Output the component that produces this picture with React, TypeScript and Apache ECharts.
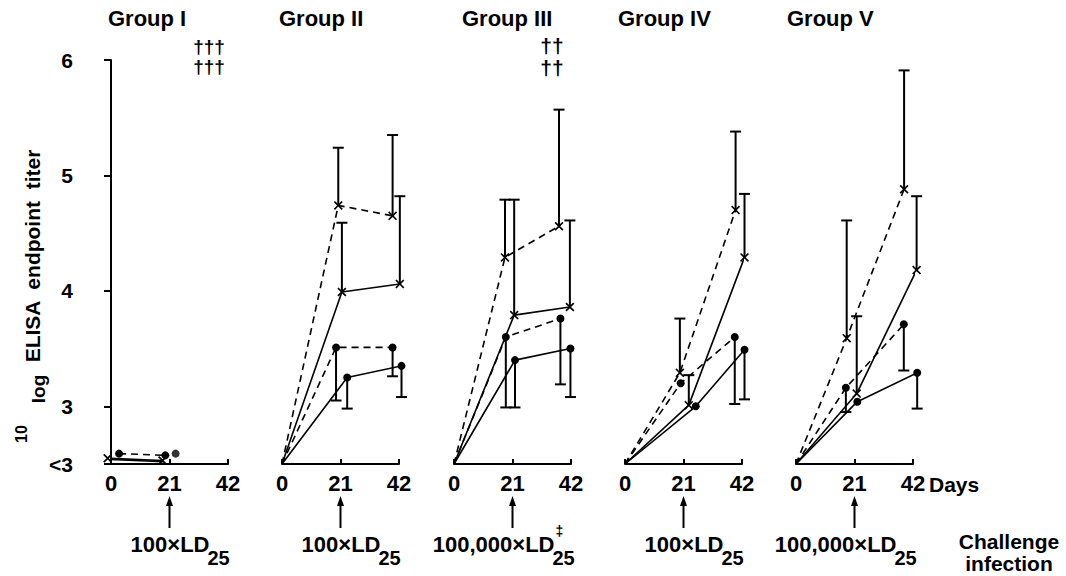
import React, { useEffect, useRef } from "react";
import * as echarts from "echarts";

// ---------- data ----------
const groupTitles = ["Group I", "Group II", "Group III", "Group IV", "Group V"];
const dayTicks = [0, 21, 42];
const yTickValues = [2.5, 3, 4, 5, 6];
const yTickLabels = ["<3", "3", "4", "5", "6"];
const challengeDoses = ["100×LD", "100×LD", "100,000×LD", "100×LD", "100,000×LD"];
const doseSub = "25";
const deathMarks = ["†††", "", "††", "", ""];

// Group I (all values below detection limit, <3 plotted as 2.5)
const g1SolidX = [[-1.2, 2.55], [18.5, 2.53]];
const g1SolidB = [[-1.2, 2.54], [19.0, 2.52]];
const g1DashDot = [[2.9, 2.59], [19.5, 2.575]];
const g1ExtraDot = [[23.2, 2.59]];

// Group II
const g2DashX = [[0, 2.5], [20.2, 4.74], [39.7, 4.65]];
const g2DashXEnd = [null, 5.24, 5.35];
const g2SolidX = [[0, 2.5], [21.5, 3.99], [42.3, 4.06]];
const g2SolidXEnd = [null, 4.59, 4.82];
const g2DashDot = [[0, 2.5], [19.4, 3.51], [39.7, 3.51]];
const g2DashDotEnd = [null, 3.05, 3.26];
const g2SolidDot = [[0, 2.5], [23.4, 3.25], [42.9, 3.35]];
const g2SolidDotEnd = [null, 2.98, 3.08];

// Group III
const g3DashX = [[0, 2.5], [18.3, 4.29], [37.7, 4.56]];
const g3DashXEnd = [null, 4.79, 5.57];
const g3SolidX = [[0, 2.5], [21.6, 3.79], [41.6, 3.86]];
const g3SolidXEnd = [null, 4.79, 4.61];
const g3DashDot = [[0, 2.5], [18.6, 3.6], [38.2, 3.76]];
const g3DashDotEnd = [null, 2.99, 3.19];
const g3SolidDot = [[0, 2.5], [21.9, 3.4], [41.8, 3.5]];
const g3SolidDotEnd = [null, 2.99, 3.08];

// Group IV
const g4DashX = [[0, 2.5], [19.7, 3.29], [39.7, 4.7]];
const g4DashXEnd = [null, 3.76, 5.38];
const g4SolidX = [[0, 2.5], [22.9, 3.01], [42.9, 4.29]];
const g4SolidXEnd = [null, 3.27, 4.84];
const g4DashDot = [[0, 2.5], [20.0, 3.2], [39.4, 3.6]];
const g4DashDotEnd = [null, null, 3.02];
const g4SolidDot = [[0, 2.5], [25.4, 3.0], [42.9, 3.49]];
const g4SolidDotEnd = [null, null, 3.06];

// Group V
const g5DashX = [[0, 2.5], [18.2, 3.59], [38.8, 4.88]];
const g5DashXEnd = [null, 4.61, 5.91];
const g5SolidX = [[0, 2.5], [21.8, 3.11], [43.3, 4.18]];
const g5SolidXEnd = [null, 3.78, 4.82];
const g5DashDot = [[0, 2.5], [17.9, 3.16], [38.7, 3.71]];
const g5DashDotEnd = [null, 2.95, 3.31];
const g5SolidDot = [[0, 2.5], [22.0, 3.04], [43.5, 3.29]];
const g5SolidDotEnd = [null, null, 2.98];

// ---------- layout / style ----------
const GRID_LEFTS = [111, 282, 454, 625, 796];
const GRID_W = 117;
const GRID_TOP = 60;
const GRID_H = 404;
const FONT = '"Liberation Sans", Arial, Helvetica, sans-serif';
const X_SYMBOL =
  "path://M0,1.3L1.3,0L5,3.7L8.7,0L10,1.3L6.3,5L10,8.7L8.7,10L5,6.3L1.3,10L0,8.7L3.7,5Z";

function lineSeries(gi: number, data: number[][], dashed: boolean, sym: string, showSym = true) {
  return {
    type: "line",
    xAxisIndex: gi,
    yAxisIndex: gi,
    clip: false,
    silent: true,
    z: 3,
    data: data.map((p) =>
      p[0] === 0 && p[1] === 2.5 ? { value: p, symbol: "none" } : { value: p }
    ),
    symbol: showSym ? (sym === "x" ? X_SYMBOL : "circle") : "none",
    symbolSize: sym === "x" ? 9 : 8,
    showAllSymbol: true,
    lineStyle: { color: "#000", width: 1.6, type: dashed ? [7, 5] : "solid" },
    itemStyle: { color: "#000" },
  };
}

function errSeries(gi: number, pts: number[][], ends: (number | null)[]) {
  const data: number[][] = [];
  pts.forEach((p, i) => {
    const e = ends[i];
    if (e !== null && e !== undefined) data.push([p[0], p[1], e]);
  });
  return {
    type: "custom",
    xAxisIndex: gi,
    yAxisIndex: gi,
    clip: false,
    silent: true,
    z: 2,
    data,
    encode: { x: 0, y: [1, 2] },
    renderItem: (_params: any, api: any) => {
      const x = api.value(0);
      const p0 = api.coord([x, api.value(1)]);
      const p1 = api.coord([x, api.value(2)]);
      return {
        type: "group",
        children: [
          {
            type: "line",
            shape: { x1: p0[0], y1: p0[1], x2: p1[0], y2: p1[1] },
            style: { stroke: "#000", lineWidth: 2 },
          },
          {
            type: "line",
            shape: { x1: p1[0] - 5.5, y1: p1[1], x2: p1[0] + 5.5, y2: p1[1] },
            style: { stroke: "#000", lineWidth: 2 },
          },
        ],
      };
    },
  };
}

function groupSeries(
  gi: number,
  dx: number[][], dxe: (number | null)[],
  sx: number[][], sxe: (number | null)[],
  dd: number[][], dde: (number | null)[],
  sd: number[][], sde: (number | null)[]
) {
  return [
    lineSeries(gi, dx, true, "x"),
    lineSeries(gi, sx, false, "x"),
    lineSeries(gi, dd, true, "dot"),
    lineSeries(gi, sd, false, "dot"),
    errSeries(gi, dx, dxe),
    errSeries(gi, sx, sxe),
    errSeries(gi, dd, dde),
    errSeries(gi, sd, sde),
  ];
}

function txt(
  x: number, y: number, text: string, font: string,
  align = "left", vAlign = "middle", rotation = 0, lineHeight?: number
) {
  const style: any = {
    text,
    font,
    fill: "#000",
    align,
    verticalAlign: vAlign,
    textAlign: align,
    textVerticalAlign: vAlign,
  };
  if (lineHeight) style.lineHeight = lineHeight;
  return { type: "text", x, y, rotation, silent: true, style };
}

export default function App() {
  const ref = useRef<HTMLDivElement>(null);

  useEffect(() => {
    if (!ref.current) return;
    const chart = echarts.init(ref.current, null, { renderer: "svg" });

    const grids = GRID_LEFTS.map((l) => ({ left: l, top: GRID_TOP, width: GRID_W, height: GRID_H }));
    const xAxes = GRID_LEFTS.map((_, i) => ({
      type: "value",
      gridIndex: i,
      min: dayTicks[0],
      max: dayTicks[dayTicks.length - 1],
      interval: 21,
      axisLine: { show: true, lineStyle: { color: "#000", width: 2 } },
      axisTick: { show: true, inside: true, length: 5, lineStyle: { color: "#000", width: 2 } },
      axisLabel: { show: true, color: "#000", fontSize: 22, fontWeight: "bold", fontFamily: FONT, margin: 8 },
      splitLine: { show: false },
    }));
    const yAxes = GRID_LEFTS.map((_, i) => ({
      type: "value",
      gridIndex: i,
      min: 2.5,
      max: 6,
      show: i === 0,
      offset: 29,
      axisLine: { show: true, lineStyle: { color: "#000", width: 2 } },
      axisTick: { show: true, length: 7, customValues: yTickValues, lineStyle: { color: "#000", width: 2 } },
      axisLabel: {
        show: true,
        customValues: yTickValues,
        color: "#000",
        fontSize: 21,
        fontWeight: "bold",
        fontFamily: FONT,
        margin: 9,
        formatter: (v: number) => {
          const k = yTickValues.indexOf(v);
          return k >= 0 ? yTickLabels[k] : "";
        },
      },
      splitLine: { show: false },
    }));

    const series: any[] = [
      lineSeries(0, g1SolidX, false, "x"),
      lineSeries(0, g1SolidB, false, "dot", false),
      lineSeries(0, g1DashDot, true, "dot"),
      {
        type: "scatter",
        xAxisIndex: 0,
        yAxisIndex: 0,
        clip: false,
        silent: true,
        data: g1ExtraDot,
        symbol: "circle",
        symbolSize: 8,
        itemStyle: { color: "#000" },
      },
      ...groupSeries(1, g2DashX, g2DashXEnd, g2SolidX, g2SolidXEnd, g2DashDot, g2DashDotEnd, g2SolidDot, g2SolidDotEnd),
      ...groupSeries(2, g3DashX, g3DashXEnd, g3SolidX, g3SolidXEnd, g3DashDot, g3DashDotEnd, g3SolidDot, g3SolidDotEnd),
      ...groupSeries(3, g4DashX, g4DashXEnd, g4SolidX, g4SolidXEnd, g4DashDot, g4DashDotEnd, g4SolidDot, g4SolidDotEnd),
      ...groupSeries(4, g5DashX, g5DashXEnd, g5SolidX, g5SolidXEnd, g5DashDot, g5DashDotEnd, g5SolidDot, g5SolidDotEnd),
    ];

    chart.setOption({
      animation: false,
      backgroundColor: "#fff",
      grid: grids,
      xAxis: xAxes,
      yAxis: yAxes,
      series,
    });

    // annotations positioned via the axes
    const titleX = [108, 279, 462, 618, 787];
    const graphics: any[] = [];
    GRID_LEFTS.forEach((_, i) => {
      graphics.push(txt(titleX[i], 18, groupTitles[i], `bold 22px ${FONT}`, "left", "middle"));
      const p21 = chart.convertToPixel({ xAxisIndex: i, yAxisIndex: i }, [21, 2.5]) as number[];
      const ax = p21[0];
      graphics.push({
        type: "line",
        silent: true,
        shape: { x1: ax, y1: 528, x2: ax, y2: 503 },
        style: { stroke: "#000", lineWidth: 2 },
      });
      graphics.push({
        type: "polygon",
        silent: true,
        shape: { points: [[ax - 3.5, 506], [ax + 3.5, 506], [ax, 496]] },
        style: { fill: "#000" },
      });
      const wide = challengeDoses[i].length > 7;
      const off = wide ? 42 : 40;
      graphics.push(txt(ax + off, 544, challengeDoses[i], `bold 22px ${FONT}`, "right", "middle"));
      graphics.push(txt(ax + off - 2, 558, doseSub, `bold 20px ${FONT}`, "left", "middle"));
      if (i === 2) {
        graphics.push(txt(ax + off + 1, 531, "‡", `bold 14px ${FONT}`, "left", "middle"));
      }
      if (deathMarks[i]) {
        const p42 = chart.convertToPixel({ xAxisIndex: i, yAxisIndex: i }, [42, 6]) as number[];
        const cx = p42[0] - 19;
        const lh = i === 0 ? 20 : 22;
        const fs = i === 0 ? 19 : 21;
        graphics.push(
          txt(cx, 56, deathMarks[i] + "\n" + deathMarks[i], `bold ${fs}px ${FONT}`, "center", "middle", 0, lh)
        );
      }
    });
    graphics.push(txt(32, 256, "ELISA  endpoint  titer", `bold 21px ${FONT}`, "center", "middle", Math.PI / 2));
    graphics.push(txt(38, 389, "log", `bold 19px ${FONT}`, "center", "middle", Math.PI / 2));
    graphics.push(txt(21, 434, "10", `bold 16px ${FONT}`, "center", "middle", Math.PI / 2));
    graphics.push(txt(929, 484, "Days", `bold 21px ${FONT}`, "left", "middle"));
    graphics.push(txt(1009, 541, "Challenge", `bold 21px ${FONT}`, "center", "middle"));
    graphics.push(txt(1009, 563, "infection", `bold 21px ${FONT}`, "center", "middle"));

    chart.setOption({ graphic: graphics });

    return () => chart.dispose();
  }, []);

  return (
    <div
      ref={ref}
      style={{ position: "absolute", left: 0, top: 0, width: 1066, height: 576, background: "#fff" }}
    />
  );
}
